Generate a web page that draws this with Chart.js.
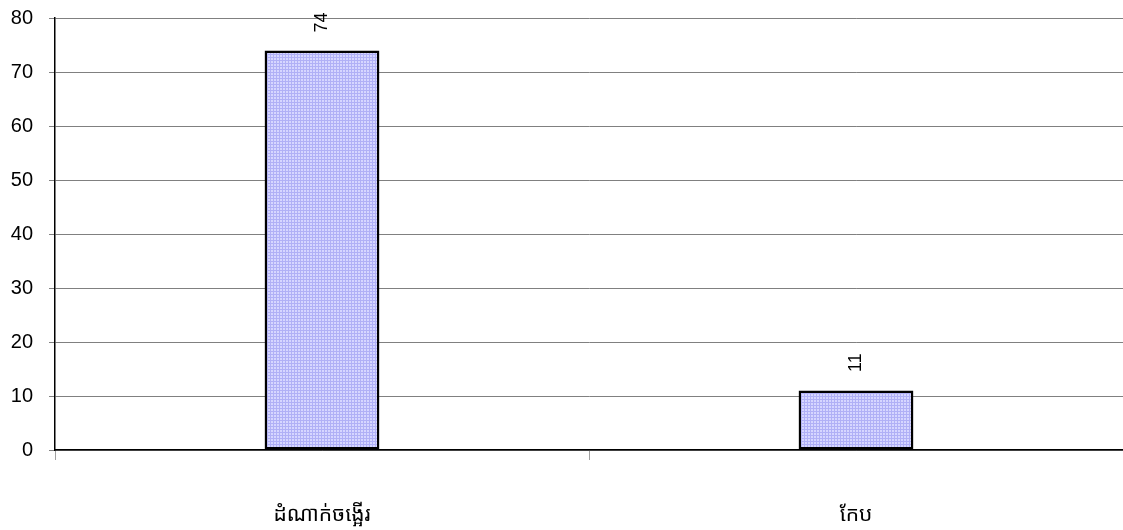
<!DOCTYPE html>
<html><head><meta charset="utf-8">
<script src="https://cdn.jsdelivr.net/npm/chart.js@4/dist/chart.umd.min.js"></script>
<style>html,body{margin:0;padding:0;background:#fff}#wrap{width:1123px;height:530px}</style>
</head><body><div id="wrap"><canvas id="c" width="1123" height="530"></canvas></div>
<script>
const categories = ["ដំណាក់ចង្អើរ", "កែប"];
const values = [74, 11];
const yTicks = [0, 10, 20, 30, 40, 50, 60, 70, 80];

function makePattern() {
  const p = document.createElement('canvas');
  p.width = 3; p.height = 3;
  const g = p.getContext('2d');
  g.fillStyle = '#d6d6ff'; g.fillRect(0, 0, 3, 3);
  g.fillStyle = '#b0b0f6'; g.fillRect(0, 0, 3, 1); g.fillRect(0, 0, 1, 3);
  return g.createPattern(p, 'repeat');
}

const valueLabels = {
  id: 'valueLabels',
  afterDatasetsDraw(chart) {
    const ctx = chart.ctx;
    const meta = chart.getDatasetMeta(0);
    ctx.save();
    ctx.fillStyle = '#000';
    ctx.font = '18px "Liberation Sans", Arial, sans-serif';
    ctx.textAlign = 'center';
    ctx.textBaseline = 'middle';
    meta.data.forEach((bar, i) => {
      ctx.save();
      ctx.translate(bar.x, bar.y - 28);
      ctx.rotate(-Math.PI / 2);
      ctx.fillText(String(values[i]), 0, 0);
      ctx.restore();
    });
    ctx.restore();
  }
};

new Chart(document.getElementById('c'), {
  type: 'bar',
  data: {
    labels: categories,
    datasets: [{
      data: values,
      backgroundColor: makePattern(),
      borderColor: '#000',
      borderWidth: 2.5,
      borderSkipped: false,
      barPercentage: 0.215,
      categoryPercentage: 1.0
    }]
  },
  options: {
    responsive: false,
    animation: false,
    layout: { padding: { top: 18, right: 0, bottom: 0, left: 0 } },
    plugins: { legend: { display: false }, tooltip: { enabled: false } },
    scales: {
      x: {
        offset: true,
        grid: { drawOnChartArea: false, drawTicks: true, tickLength: 10, color: '#a0a0a0', offset: true },
        border: { color: '#000', width: 1.5 },
        ticks: { color: '#000', padding: 42, font: { size: 21, family: '"Noto Sans Khmer", "Khmer OS", "Noto Sans", sans-serif' } },
        afterFit(s) { s.height = 80; s.paddingLeft = 0; s.paddingRight = 0; }
      },
      y: {
        min: 0, max: 80,
        afterBuildTicks(s) { s.ticks = yTicks.map(v => ({ value: v })); },
        grid: { color: '#808080', lineWidth: 1, tickLength: 6 },
        border: { color: '#000', width: 1.5 },
        ticks: { color: '#000', padding: 16, font: { size: 20, family: '"Liberation Sans", Arial, sans-serif' } },
        afterFit(s) { s.width = 55; s.paddingTop = 0; s.paddingBottom = 0; }
      }
    }
  },
  plugins: [valueLabels]
});
</script></body></html>
